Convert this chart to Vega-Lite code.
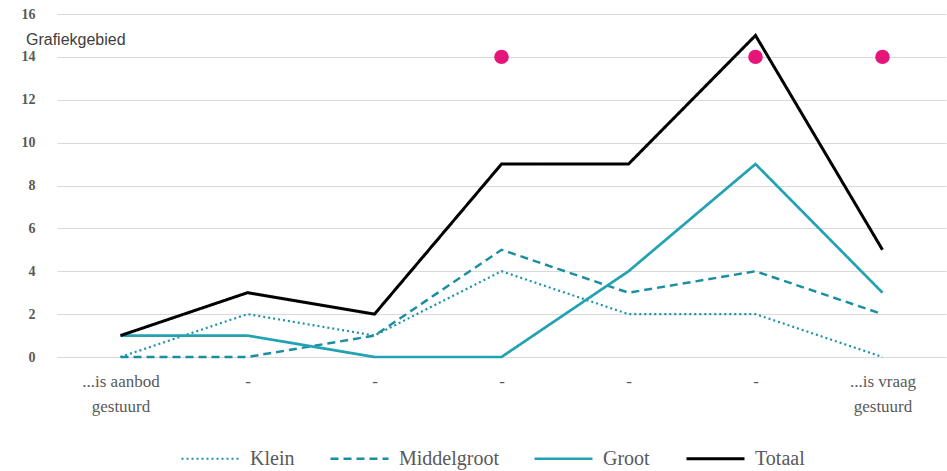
{
  "$schema": "https://vega.github.io/schema/vega-lite/v6.json",
  "width": 889,
  "height": 343,
  "autosize": {"type": "none"},
  "padding": {"left": 57, "top": 14, "right": 1, "bottom": 114},
  "background": "white",
  "title": {
    "text": "Grafiekgebied",
    "anchor": "start",
    "frame": "group",
    "orient": "top",
    "offset": -41,
    "dx": -31,
    "font": "Liberation Sans",
    "fontSize": 16,
    "fontWeight": "normal",
    "color": "#404040",
    "baseline": "top"
  },
  "config": {
    "view": {"stroke": null},
    "font": "Liberation Serif"
  },
  "datasets": {
    "lines": [
      {"positie": 1, "reeks": "Klein", "aantal": 0},
      {"positie": 2, "reeks": "Klein", "aantal": 2},
      {"positie": 3, "reeks": "Klein", "aantal": 1},
      {"positie": 4, "reeks": "Klein", "aantal": 4},
      {"positie": 5, "reeks": "Klein", "aantal": 2},
      {"positie": 6, "reeks": "Klein", "aantal": 2},
      {"positie": 7, "reeks": "Klein", "aantal": 0},
      {"positie": 1, "reeks": "Middelgroot", "aantal": 0},
      {"positie": 2, "reeks": "Middelgroot", "aantal": 0},
      {"positie": 3, "reeks": "Middelgroot", "aantal": 1},
      {"positie": 4, "reeks": "Middelgroot", "aantal": 5},
      {"positie": 5, "reeks": "Middelgroot", "aantal": 3},
      {"positie": 6, "reeks": "Middelgroot", "aantal": 4},
      {"positie": 7, "reeks": "Middelgroot", "aantal": 2},
      {"positie": 1, "reeks": "Groot", "aantal": 1},
      {"positie": 2, "reeks": "Groot", "aantal": 1},
      {"positie": 3, "reeks": "Groot", "aantal": 0},
      {"positie": 4, "reeks": "Groot", "aantal": 0},
      {"positie": 5, "reeks": "Groot", "aantal": 4},
      {"positie": 6, "reeks": "Groot", "aantal": 9},
      {"positie": 7, "reeks": "Groot", "aantal": 3},
      {"positie": 1, "reeks": "Totaal", "aantal": 1},
      {"positie": 2, "reeks": "Totaal", "aantal": 3},
      {"positie": 3, "reeks": "Totaal", "aantal": 2},
      {"positie": 4, "reeks": "Totaal", "aantal": 9},
      {"positie": 5, "reeks": "Totaal", "aantal": 9},
      {"positie": 6, "reeks": "Totaal", "aantal": 15},
      {"positie": 7, "reeks": "Totaal", "aantal": 5}
    ],
    "punten": [
      {"positie": 4, "waarde": 14},
      {"positie": 6, "waarde": 14},
      {"positie": 7, "waarde": 14}
    ]
  },
  "layer": [
    {
      "data": {"name": "lines"},
      "mark": {"type": "line", "strokeCap": "butt", "strokeJoin": "miter"},
      "encoding": {
        "x": {
          "field": "positie",
          "type": "ordinal",
          "scale": {"type": "point", "padding": 0.5, "domain": [1, 2, 3, 4, 5, 6, 7]},
          "axis": {
            "title": null,
            "labelAngle": 0,
            "domain": false,
            "ticks": false,
            "grid": false,
            "labelFontSize": 17,
            "labelColor": "#595959",
            "labelPadding": 16,
            "labelLineHeight": 25,
            "labelExpr": "datum.value == 1 ? ['...is aanbod', 'gestuurd'] : datum.value == 7 ? ['...is vraag', 'gestuurd'] : '-'"
          }
        },
        "y": {
          "field": "aantal",
          "type": "quantitative",
          "scale": {"domain": [0, 16]},
          "axis": {
            "title": null,
            "values": [0, 2, 4, 6, 8, 10, 12, 14, 16],
            "domain": false,
            "ticks": false,
            "labelFontSize": 14,
            "labelFontWeight": "bold",
            "labelColor": "#595959",
            "labelPadding": 22,
            "gridColor": "#d9d9d9",
            "gridWidth": 1
          }
        },
        "color": {
          "field": "reeks",
          "type": "nominal",
          "scale": {"domain": ["Klein", "Middelgroot", "Groot", "Totaal"], "range": ["#1a94a6", "#1a8fa0", "#22a2b3", "#000000"]},
          "legend": {
            "title": null,
            "orient": "none",
            "legendX": 123,
            "legendY": 414,
            "direction": "horizontal",
            "symbolType": "stroke",
            "symbolSize": 3364,
            "labelFontSize": 20,
            "labelColor": "#595959",
            "labelOffset": 9,
            "columnPadding": 30
          }
        },
        "strokeDash": {
          "field": "reeks",
          "type": "nominal",
          "scale": {"domain": ["Klein", "Middelgroot", "Groot", "Totaal"], "range": [[2, 3], [8, 5], [1, 0], [1, 0]]}
        },
        "strokeWidth": {
          "field": "reeks",
          "type": "nominal",
          "scale": {"domain": ["Klein", "Middelgroot", "Groot", "Totaal"], "range": [2.2, 3, 2.5, 4]}
        }
      }
    },
    {
      "data": {"name": "punten"},
      "mark": {"type": "point", "filled": true, "opacity": 1, "size": 210, "color": "#e6157a"},
      "encoding": {
        "x": {"field": "positie", "type": "ordinal"},
        "y": {"field": "waarde", "type": "quantitative"}
      }
    }
  ]
}
